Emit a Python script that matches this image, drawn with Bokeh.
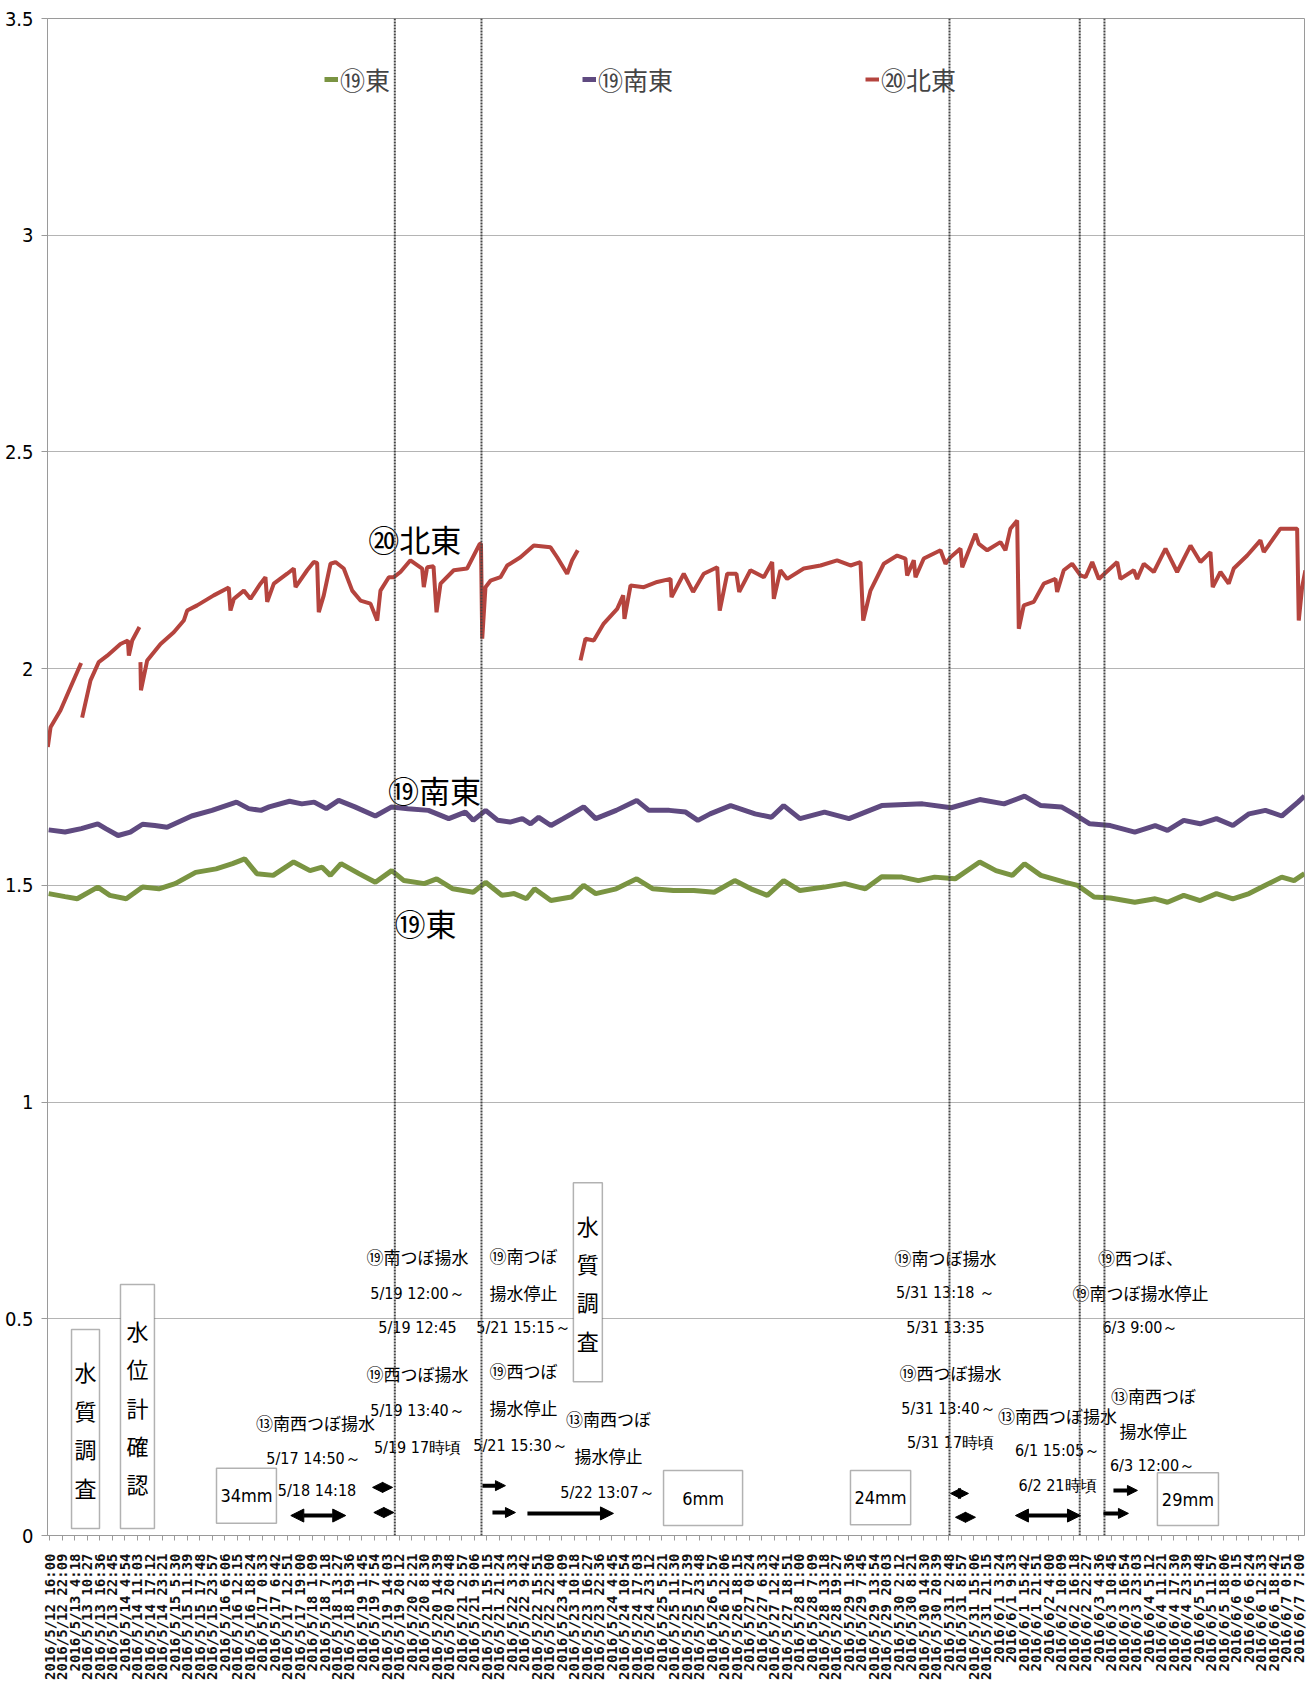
import math
from bokeh.plotting import figure
from bokeh.models import (Span, Arrow, NormalHead, Label, BoxAnnotation, Legend,
                          LegendItem, FixedTicker, ColumnDataSource)
from bokeh.embed import file_html
from bokeh.resources import INLINE
from bokeh.core.properties import value

nan = float("nan")

# x unit = one category-label step (6h09m) starting 2016/5/12 16:00
tick_labels = [
    "2016/5/12 16:00", "2016/5/12 22:09", "2016/5/13 4:18", "2016/5/13 10:27", "2016/5/13 16:36",
    "2016/5/13 22:45", "2016/5/14 4:54", "2016/5/14 11:03", "2016/5/14 17:12", "2016/5/14 23:21",
    "2016/5/15 5:30", "2016/5/15 11:39", "2016/5/15 17:48", "2016/5/15 23:57", "2016/5/16 6:06",
    "2016/5/16 12:15", "2016/5/16 18:24", "2016/5/17 0:33", "2016/5/17 6:42", "2016/5/17 12:51",
    "2016/5/17 19:00", "2016/5/18 1:09", "2016/5/18 7:18", "2016/5/18 13:27", "2016/5/18 19:36",
    "2016/5/19 1:45", "2016/5/19 7:54", "2016/5/19 14:03", "2016/5/19 20:12", "2016/5/20 2:21",
    "2016/5/20 8:30", "2016/5/20 14:39", "2016/5/20 20:48", "2016/5/21 2:57", "2016/5/21 9:06",
    "2016/5/21 15:15", "2016/5/21 21:24", "2016/5/22 3:33", "2016/5/22 9:42", "2016/5/22 15:51",
    "2016/5/22 22:00", "2016/5/23 4:09", "2016/5/23 10:18", "2016/5/23 16:27", "2016/5/23 22:36",
    "2016/5/24 4:45", "2016/5/24 10:54", "2016/5/24 17:03", "2016/5/24 23:12", "2016/5/25 5:21",
    "2016/5/25 11:30", "2016/5/25 17:39", "2016/5/25 23:48", "2016/5/26 5:57", "2016/5/26 12:06",
    "2016/5/26 18:15", "2016/5/27 0:24", "2016/5/27 6:33", "2016/5/27 12:42", "2016/5/27 18:51",
    "2016/5/28 1:00", "2016/5/28 7:09", "2016/5/28 13:18", "2016/5/28 19:27", "2016/5/29 1:36",
    "2016/5/29 7:45", "2016/5/29 13:54", "2016/5/29 20:03", "2016/5/30 2:12", "2016/5/30 8:21",
    "2016/5/30 14:30", "2016/5/30 20:39", "2016/5/31 2:48", "2016/5/31 8:57", "2016/5/31 15:06",
    "2016/5/31 21:15", "2016/6/1 3:24", "2016/6/1 9:33", "2016/6/1 15:42", "2016/6/1 21:51",
    "2016/6/2 4:00", "2016/6/2 10:09", "2016/6/2 16:18", "2016/6/2 22:27", "2016/6/3 4:36",
    "2016/6/3 10:45", "2016/6/3 16:54", "2016/6/3 23:03", "2016/6/4 5:12", "2016/6/4 11:21",
    "2016/6/4 17:30", "2016/6/4 23:39", "2016/6/5 5:48", "2016/6/5 11:57", "2016/6/5 18:06",
    "2016/6/6 0:15", "2016/6/6 6:24", "2016/6/6 12:33", "2016/6/6 18:42", "2016/6/7 0:51",
    "2016/6/7 7:00",
]
y_ticks = [0, 0.5, 1, 1.5, 2, 2.5, 3, 3.5]
y_tick_labels = ["0", "0.5", "1", "1.5", "2", "2.5", "3", "3.5"]

# ⑳北東 (red) — gaps as NaN
ne_x = [-0.16, 0.06, 0.86, 1.66, 2.51, nan,
        2.59, 3.26, 3.92, 4.60, 5.66, 6.25, 6.33, 6.60, 7.18, nan,
        7.26, 7.30, 7.80, 8.87, 9.93, 10.73, 11.00, 11.80, 13.13, 14.33, 14.47, 14.74,
        15.54, 16.07, 16.87, 17.27, 17.41, 17.94, 19.01, 19.54, 19.68, 20.61, 21.14,
        21.41, 21.54, 21.94, 22.48, 22.88, 23.54, 24.22, 24.88, 25.68, 26.22, 26.48,
        27.15, 27.55, 28.08, 28.88, 29.82, 29.95, 30.22, 30.73, 30.97, 31.29, 32.35,
        33.42, 34.43, 34.53, 34.63, 34.89, 35.29, 36.09, 36.63, 37.69, 38.76, 40.10,
        40.63, 41.43, 41.83, 42.28, nan,
        42.50, 42.90, 43.56, 44.36, 45.44, 45.92, 46.02, 46.51, 47.57, 48.64, 49.71,
        49.79, 50.77, 51.52, 52.37, 53.45, 53.65, 54.25, 54.99, 55.21, 56.11, 57.18,
        57.85, 57.98, 58.51, 59.05, 60.38, 61.72, 63.05, 64.12, 64.92, 65.14, 65.72,
        66.79, 67.86, 68.52, 68.66, 69.19, 69.33, 69.99, 71.33, 71.73, 72.13, 72.93,
        73.07, 74.13, 74.40, 75.07, 76.13, 76.53, 76.93, 77.47, 77.60, 78.00, 78.80,
        79.60, 80.54, 80.67, 81.20, 81.87, 82.54, 82.94, 83.48, 84.01, 84.46, 85.48,
        85.74, 86.81, 87.08, 87.61, 88.41, 89.35, 90.28, 91.35, 92.15, 92.95, 93.13,
        93.75, 94.41, 94.81, 95.89, 96.95, 97.22, 98.55, 99.89, 100.02, 100.29, 100.55]
ne_y = [1.819, 1.865, 1.904, 1.957, 2.013, nan,
        1.887, 1.973, 2.015, 2.030, 2.057, 2.065, 2.030, 2.065, 2.096, nan,
        2.015, 1.950, 2.019, 2.057, 2.084, 2.111, 2.134, 2.146, 2.169, 2.187, 2.134, 2.161,
        2.180, 2.161, 2.196, 2.211, 2.154, 2.196, 2.219, 2.231, 2.188, 2.227, 2.246,
        2.244, 2.130, 2.169, 2.242, 2.246, 2.231, 2.180, 2.157, 2.150, 2.111, 2.180,
        2.211, 2.211, 2.223, 2.250, 2.231, 2.188, 2.234, 2.236, 2.130, 2.196, 2.227,
        2.231, 2.288, 2.288, 2.069, 2.188, 2.203, 2.211, 2.238, 2.257, 2.284, 2.280,
        2.257, 2.219, 2.250, 2.273, nan,
        2.019, 2.069, 2.065, 2.104, 2.138, 2.169, 2.115, 2.192, 2.188, 2.200, 2.207,
        2.165, 2.219, 2.177, 2.219, 2.234, 2.134, 2.219, 2.219, 2.177, 2.227, 2.211,
        2.246, 2.161, 2.227, 2.207, 2.231, 2.238, 2.250, 2.238, 2.246, 2.111, 2.180,
        2.242, 2.261, 2.254, 2.215, 2.250, 2.211, 2.254, 2.273, 2.242, 2.257, 2.277,
        2.234, 2.311, 2.288, 2.273, 2.292, 2.273, 2.323, 2.342, 2.092, 2.146, 2.154,
        2.196, 2.207, 2.177, 2.227, 2.242, 2.215, 2.211, 2.246, 2.207, 2.219, 2.246,
        2.207, 2.227, 2.207, 2.242, 2.223, 2.277, 2.223, 2.284, 2.246, 2.269, 2.188,
        2.223, 2.196, 2.231, 2.261, 2.296, 2.269, 2.323, 2.323, 2.111, 2.188, 2.227]

# ⑲南東 (purple)
se_x = [-0.09, 1.22, 2.52, 3.84, 4.48, 5.47, 6.45, 7.43, 8.41, 9.39, 11.36, 12.99, 14.95,
        15.93, 16.91, 17.57, 19.20, 20.18, 21.17, 22.14, 23.13, 24.43, 26.07, 27.38, 28.69,
        30.32, 31.95, 33.27, 33.91, 34.90, 35.88, 36.86, 37.84, 38.50, 39.15, 40.13, 41.11,
        42.75, 43.72, 45.36, 47.00, 47.98, 49.61, 50.92, 51.90, 52.88, 54.52, 56.48, 57.79,
        58.77, 60.08, 62.04, 64.00, 66.62, 69.89, 72.18, 74.47, 76.42, 78.06, 79.37, 81.01,
        81.99, 83.29, 84.93, 86.89, 88.52, 89.51, 90.81, 92.12, 93.43, 94.74, 96.04, 97.35,
        98.66, 99.96, 100.48]
se_y = [1.628, 1.623, 1.631, 1.642, 1.631, 1.615, 1.623, 1.641, 1.638, 1.634, 1.660, 1.673,
        1.692, 1.677, 1.673, 1.681, 1.694, 1.688, 1.692, 1.677, 1.696, 1.681, 1.660, 1.681,
        1.677, 1.673, 1.654, 1.669, 1.650, 1.673, 1.650, 1.646, 1.654, 1.642, 1.657, 1.638,
        1.654, 1.681, 1.654, 1.673, 1.696, 1.673, 1.673, 1.669, 1.650, 1.665, 1.684, 1.665,
        1.657, 1.684, 1.654, 1.669, 1.654, 1.684, 1.688, 1.679, 1.698, 1.688, 1.706, 1.684,
        1.681, 1.665, 1.642, 1.638, 1.623, 1.638, 1.627, 1.650, 1.642, 1.654, 1.638, 1.665,
        1.673, 1.660, 1.692, 1.706]

# ⑲東 (green)
e_x = [-0.09, 1.22, 2.19, 3.84, 4.81, 6.12, 7.43, 8.74, 10.04, 11.68, 13.32, 14.63, 15.61,
       16.58, 17.89, 19.53, 20.84, 21.81, 22.47, 23.32, 24.76, 26.07, 27.38, 28.36, 29.99,
       30.98, 32.28, 33.91, 34.90, 36.20, 37.19, 38.17, 38.82, 40.13, 41.76, 42.75, 43.72,
       45.36, 47.00, 48.30, 49.94, 51.57, 53.21, 54.85, 56.15, 57.46, 58.77, 60.08, 62.04,
       63.67, 65.31, 66.62, 68.25, 69.56, 70.86, 72.50, 74.47, 75.77, 77.08, 78.06, 79.37,
       81.33, 82.31, 83.62, 84.93, 86.89, 88.52, 89.51, 90.81, 92.12, 93.43, 94.74, 96.04,
       97.35, 98.66, 99.64, 100.48]
e_y = [1.481, 1.474, 1.469, 1.496, 1.477, 1.469, 1.496, 1.492, 1.504, 1.530, 1.538, 1.550,
       1.561, 1.527, 1.523, 1.554, 1.534, 1.542, 1.523, 1.550, 1.527, 1.507, 1.534, 1.511,
       1.504, 1.515, 1.492, 1.484, 1.507, 1.477, 1.481, 1.469, 1.492, 1.465, 1.473, 1.500,
       1.481, 1.492, 1.515, 1.492, 1.488, 1.488, 1.484, 1.511, 1.492, 1.477, 1.511, 1.488,
       1.496, 1.504, 1.492, 1.520, 1.519, 1.511, 1.519, 1.515, 1.554, 1.534, 1.523, 1.550,
       1.523, 1.507, 1.500, 1.473, 1.471, 1.461, 1.469, 1.461, 1.477, 1.465, 1.481, 1.469,
       1.481, 1.500, 1.519, 1.511, 1.527]

# event lines (x in label steps)
event_x = [27.63, 34.57, 72.05, 82.48, 84.46]

# arrows: x_start, x_end, y, double-headed
arrow_x0 = [19.30, 25.85, 25.95, 34.65, 35.45, 38.25, 72.13, 72.53, 77.33, 85.18, 84.38]
arrow_x1 = [23.70, 27.45, 27.55, 36.49, 37.29, 45.14, 73.57, 74.13, 82.54, 87.10, 86.38]
arrow_y = [0.046, 0.111, 0.053, 0.115, 0.053, 0.051, 0.097, 0.042, 0.046, 0.104, 0.051]
arrow_both = [True, True, True, False, False, False, True, True, True, False, False]

# framed text boxes
box_text = ["水\n質\n調\n査", "水\n位\n計\n確\n認", "34mm", "水\n質\n調\n査", "6mm", "24mm", "29mm"]
box_l = [1.74, 5.66, 13.35, 41.93, 49.15, 64.12, 88.70]
box_r = [3.98, 8.38, 18.15, 44.25, 55.48, 68.94, 93.59]
box_b = [0.016, 0.016, 0.028, 0.355, 0.023, 0.025, 0.023]
box_t = [0.475, 0.579, 0.155, 0.814, 0.150, 0.150, 0.145]

# free annotation texts
ann_text = ["⑬南西つぼ揚水", "5/17 14:50～", "5/18 14:18",
            "⑲南つぼ揚水", "5/19 12:00～", "5/19 12:45",
            "⑲西つぼ揚水", "5/19 13:40～", "5/19 17時頃",
            "⑲南つぼ", "揚水停止", "5/21 15:15～",
            "⑲西つぼ", "揚水停止", "5/21 15:30～",
            "⑬南西つぼ", "揚水停止", "5/22 13:07～",
            "⑲南つぼ揚水", "5/31 13:18 ～", "5/31 13:35",
            "⑲西つぼ揚水", "5/31 13:40～", "5/31 17時頃",
            "⑬南西つぼ揚水", "6/1 15:05～", "6/2 21時頃",
            "⑲西つぼ、", "⑲南つぼ揚水停止", "6/3 9:00～",
            "⑬南西つぼ", "揚水停止", "6/3 12:00～"]
ann_x = [21.27, 21.12, 21.40,
         29.45, 29.45, 29.45,
         29.45, 29.45, 29.45,
         37.93, 37.93, 37.93,
         37.93, 37.93, 37.69,
         44.74, 44.74, 44.66,
         71.73, 71.73, 71.73,
         72.13, 71.97, 72.13,
         80.70, 80.70, 80.70,
         87.34, 87.34, 87.34,
         88.39, 88.39, 88.31]
ann_y = [0.261, 0.178, 0.104,
         0.644, 0.558, 0.480,
         0.374, 0.288, 0.203,
         0.646, 0.561, 0.480,
         0.381, 0.295, 0.208,
         0.270, 0.185, 0.099,
         0.641, 0.561, 0.480,
         0.376, 0.293, 0.215,
         0.277, 0.196, 0.115,
         0.641, 0.561, 0.480,
         0.323, 0.242, 0.162]

series_label = ["⑳北東", "⑲南東", "⑲東"]
series_label_x = [29.23, 30.81, 30.09]
series_label_y = [2.300, 1.721, 1.414]

RED = "#B5443E"
PURPLE = "#5F4A80"
GREEN = "#7A9442"
JP = "Noto Sans CJK JP"
NUM = "DejaVu Sans Condensed"

p = figure(width=1310, height=1686, output_backend="svg", toolbar_location=None,
           x_range=(-0.184, 100.48), y_range=(0, 3.5),
           min_border_left=47, min_border_right=6, min_border_top=18, min_border_bottom=151)
p.background_fill_color = "white"
p.border_fill_color = "white"
p.outline_line_color = "#9a9a9a"

p.xgrid.visible = False
p.ygrid.ticker = FixedTicker(ticks=y_ticks)
p.ygrid.grid_line_color = "#b4b4b4"
p.ygrid.grid_line_width = 1

p.yaxis.ticker = FixedTicker(ticks=y_ticks)
p.yaxis.major_label_overrides = {t: s for t, s in zip(y_ticks, y_tick_labels)}
p.yaxis.major_label_text_font = NUM
p.yaxis.major_label_text_font_size = "20px"
p.yaxis.major_label_text_color = "black"
p.yaxis.axis_line_color = "#9a9a9a"
p.yaxis.major_tick_line_color = "#9a9a9a"
p.yaxis.major_tick_out = 6
p.yaxis.major_tick_in = 0
p.yaxis.minor_tick_line_color = None
p.yaxis.major_label_standoff = 8

p.xaxis.ticker = FixedTicker(ticks=list(range(len(tick_labels))))
p.xaxis.major_label_overrides = {i: s for i, s in enumerate(tick_labels)}
p.xaxis.major_label_orientation = math.pi / 2
p.xaxis.major_label_text_font = "DejaVu Sans Mono"
p.xaxis.major_label_text_font_size = "14px"
p.xaxis.major_label_text_font_style = "bold"
p.xaxis.major_label_text_color = "#111111"
p.xaxis.axis_line_color = "#9a9a9a"
p.xaxis.major_tick_line_color = "#9a9a9a"
p.xaxis.major_tick_out = 5
p.xaxis.major_tick_in = 0
p.xaxis.minor_tick_line_color = None
p.xaxis.major_label_standoff = 13

r_ne = p.line(ne_x, ne_y, line_color=RED, line_width=4)
r_se = p.line(se_x, se_y, line_color=PURPLE, line_width=5)
r_e = p.line(e_x, e_y, line_color=GREEN, line_width=5)

for ex in event_x:
    p.add_layout(Span(location=ex, dimension="height", line_color="#454545",
                      line_width=2, line_dash="2 1"))

for x0, x1, yy, both in zip(arrow_x0, arrow_x1, arrow_y, arrow_both):
    small = (x1 - x0) < 2.5
    hs = 10 if small else 13
    start = NormalHead(size=hs, fill_color="black", line_color="black", line_width=1) if both else None
    end = NormalHead(size=hs, fill_color="black", line_color="black", line_width=1)
    p.add_layout(Arrow(x_start=x0, x_end=x1, y_start=yy, y_end=yy, start=start, end=end,
                       line_color="black", line_width=4))

for txt, l, r, b, t in zip(box_text, box_l, box_r, box_b, box_t):
    p.add_layout(BoxAnnotation(left=l, right=r, bottom=b, top=t, fill_color="white",
                               fill_alpha=1, line_color="black", line_width=1.5))
    vertical = "\n" in txt
    p.add_layout(Label(x=(l + r) / 2, y=(b + t) / 2, text=txt, text_align="center",
                       text_baseline="middle", text_font=JP if vertical else NUM,
                       text_font_size="22px" if vertical else "18px",
                       text_line_height=1.2, text_color="black"))

ann_font = [NUM if s[0].isdigit() else JP for s in ann_text]
ann_size = ["16px" if s[0].isdigit() else "17px" for s in ann_text]
ann_src = ColumnDataSource(dict(x=ann_x, y=ann_y, text=ann_text, font=ann_font, size=ann_size))
p.text("x", "y", text="text", source=ann_src, text_align="center", text_baseline="middle",
       text_font="font", text_font_size="size", text_color="black")

lab_src = ColumnDataSource(dict(x=series_label_x, y=series_label_y, text=series_label))
p.text("x", "y", text="text", source=lab_src, text_align="center", text_baseline="middle",
       text_font=value(JP), text_font_size="31px", text_color="black")

legend = Legend(items=[LegendItem(label="⑲東", renderers=[r_e]),
                       LegendItem(label="⑲南東", renderers=[r_se]),
                       LegendItem(label="⑳北東", renderers=[r_ne])],
                orientation="horizontal", location=(277, 1438), spacing=192,
                glyph_width=14, glyph_height=26, label_standoff=2, label_height=26,
                label_text_font=JP, label_text_font_size="25px", label_text_baseline="middle",
                padding=0, margin=0, border_line_alpha=0, background_fill_alpha=0)
p.add_layout(legend)

open("out.html", "w").write(file_html(p, INLINE))
